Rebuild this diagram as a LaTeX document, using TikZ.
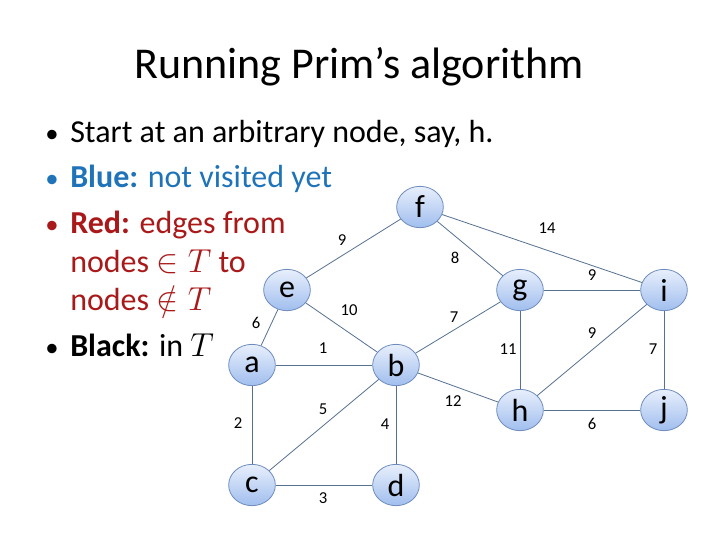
\documentclass[tikz,border=0pt]{standalone}
\usepackage{fontspec}
\setmainfont{Carlito}
\usetikzlibrary{shapes.geometric}

\definecolor{vtxtop}{RGB}{232,239,252}
\definecolor{vtxbot}{RGB}{160,190,238}
\definecolor{vtxline}{RGB}{110,140,190}
\definecolor{edgeline}{RGB}{85,112,145}
\definecolor{notvisited}{RGB}{30,115,185}
\definecolor{frontier}{RGB}{170,25,25}

\begin{document}
\begin{tikzpicture}[x=0.75pt,y=-0.75pt]
				\tikzstyle{vertex}=[ellipse,draw=vtxline,line width=0.6pt,top color=vtxtop,bottom color=vtxbot,
				minimum width=35pt,minimum height=31pt,inner sep=0pt,font=\fontsize{24}{26}\selectfont]
				\tikzstyle{wt}=[inner sep=0pt,font=\fontsize{12.5}{14}\selectfont]
				\tikzstyle{link}=[draw=edgeline,line width=0.6pt]
				\tikzstyle{line}=[anchor=base west,inner sep=0pt,font=\fontsize{24}{26}\selectfont]
				\tikzstyle{dot}=[anchor=base,inner sep=0pt,font=\fontsize{20}{22}\selectfont]
				\useasboundingbox (0,0) rectangle (720,540);
				% title and bullets
				\node[anchor=base,inner sep=0pt,font=\fontsize{33}{36}\selectfont] (title) at (359,78) {Running Prim’s algorithm};
				\node[line] (l1) at (70,142) {Start at an arbitrary node, say, h.};
				\node[line,text=notvisited] (l2) at (70,187) {\textbf{Blue:} not visited yet};
				\node[line,text=frontier] (l3) at (70,233) {\textbf{Red:} edges from};
				\node[line,text=frontier] (l4) at (70,272) {nodes $\in T$ to};
				\node[line,text=frontier] (l5) at (70,310) {nodes $\notin T$};
				\node[line] (l6) at (70,356) {\textbf{Black:} in $T$};
				\node[dot] (b1) at (52,142) {•};
				\node[dot,text=notvisited] (b2) at (52,187) {•};
				\node[dot,text=frontier] (b3) at (52,233) {•};
				\node[dot] (b6) at (52,356) {•};
				% the graph
				\node[vertex] (f) at (420,207) {f};
				\node[vertex] (e) at (287,290) {e};
				\node[vertex] (g) at (520,290) {g};
				\node[vertex] (i) at (664,290) {i};
				\node[vertex] (a) at (252,365) {a};
				\node[vertex] (b) at (396,365) {b};
				\node[vertex] (h) at (520,410) {h};
				\node[vertex] (j) at (664,410) {j};
				\node[vertex] (c) at (252,485) {c};
				\node[vertex] (d) at (396,485) {d};
				\draw[link] (f) -- node[wt,shift={(-11.5,-8.5)}] (wfe) {9} (e);
				\draw[link] (f) -- node[wt,shift={(5,-20.5)}] (wfi) {14} (i);
				\draw[link] (f) -- node[wt,shift={(-15,9.5)}] (wfg) {8} (g);
				\draw[link] (g) -- node[wt,shift={(0,-15)}] (wgi) {9} (i);
				\draw[link] (e) -- node[wt,shift={(-13.5,-4.5)}] (wea) {6} (a);
				\draw[link] (e) -- node[wt,shift={(7.5,-17.5)}] (web) {10} (b);
				\draw[link] (b) -- node[wt,shift={(-4,-10.5)}] (wbg) {7} (g);
				\draw[link] (a) -- node[wt,shift={(-1,-17)}] (wab) {1} (b);
				\draw[link] (g) -- node[wt,shift={(-12,-1)}] (wgh) {11} (h);
				\draw[link] (h) -- node[wt,shift={(0,-17)}] (whi) {9} (i);
				\draw[link] (i) -- node[wt,shift={(-11,-1)}] (wij) {7} (j);
				\draw[link] (b) -- node[wt,shift={(-1,-16)}] (wbc) {5} (c);
				\draw[link] (b) -- node[wt,shift={(-5,13.5)}] (wbh) {12} (h);
				\draw[link] (a) -- node[wt,shift={(-14,-2)}] (wac) {2} (c);
				\draw[link] (b) -- node[wt,shift={(-11,-1)}] (wbd) {4} (d);
				\draw[link] (h) -- node[wt,shift={(0,14)}] (whj) {6} (j);
				\draw[link] (c) -- node[wt,shift={(-1,13)}] (wcd) {3} (d);
\end{tikzpicture}
\end{document}
